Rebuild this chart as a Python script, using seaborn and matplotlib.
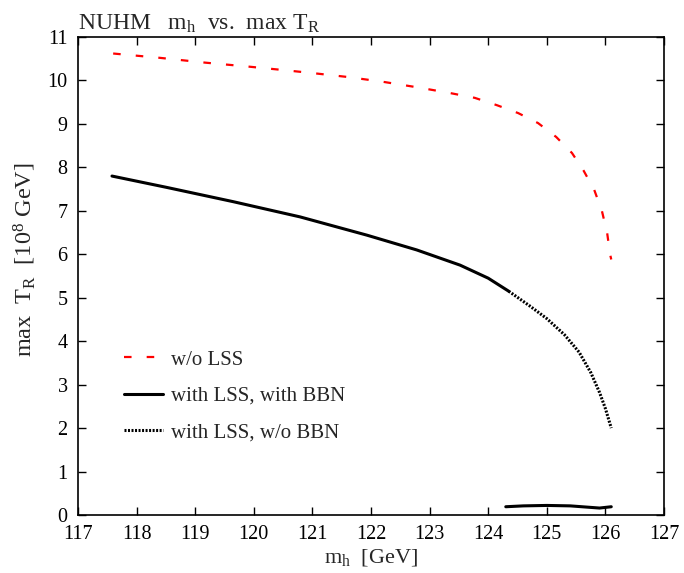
import matplotlib
matplotlib.use("Agg")
import matplotlib.pyplot as plt
import seaborn as sns
import numpy as np
import pandas as pd

# Data
mh_red = [117.6, 118.4, 119.17, 119.9, 120.5, 121.0, 121.6, 122.2, 122.8, 123.35, 123.77,
          124.15, 124.51, 124.85, 125.16, 125.43, 125.63, 125.81, 125.94, 126.03, 126.08, 126.1]
tr_red = [10.62, 10.52, 10.41, 10.32, 10.24, 10.17, 10.08, 9.97, 9.84, 9.71, 9.60,
          9.43, 9.25, 9.02, 8.70, 8.33, 7.92, 7.48, 7.00, 6.49, 6.0, 5.88]

mh_solid = [117.58, 118.51, 119.65, 120.79, 121.93, 122.78, 123.52, 124.0, 124.35]
tr_solid = [7.80, 7.54, 7.21, 6.86, 6.44, 6.10, 5.75, 5.45, 5.15]

mh_dot = [124.35, 124.7, 125.0, 125.3, 125.55, 125.75, 125.9, 126.0, 126.1]
tr_dot = [5.15, 4.82, 4.52, 4.15, 3.75, 3.28, 2.82, 2.45, 2.0]

mh_low = [124.3, 124.6, 125.0, 125.4, 125.7, 125.9, 126.1]
tr_low = [0.19, 0.21, 0.22, 0.21, 0.18, 0.16, 0.19]

sns.set_theme(style="ticks")
plt.rcParams['font.family'] = ['Liberation Serif', 'DejaVu Serif']
plt.rcParams['mathtext.fontset'] = 'custom'
plt.rcParams['mathtext.rm'] = 'Liberation Serif'
plt.rcParams['mathtext.it'] = 'Liberation Serif'

fig = plt.figure(figsize=(6.84, 5.73), dpi=100)
ax = fig.add_axes([78/684, 1-515/573, (664-78)/684, (515-37)/573])

sns.lineplot(x=mh_red, y=tr_red, ax=ax, color='red', lw=1.6, label='w/o LSS', sort=False)
ax.lines[-1].set_dashes([3.4, 6.8])
sns.lineplot(x=mh_solid, y=tr_solid, ax=ax, color='black', lw=2.2, label='with LSS, with BBN', sort=False)
sns.lineplot(x=mh_dot, y=tr_dot, ax=ax, color='black', lw=2.2, label='with LSS, w/o BBN', sort=False)
ax.lines[-1].set_dashes([0.65, 0.5])
sns.lineplot(x=mh_low, y=tr_low, ax=ax, color='black', lw=2.2, sort=False)

ax.set_xlim(117, 127)
ax.set_ylim(0, 11)
ax.set_xticks(range(117, 128))
ax.set_yticks(range(0, 12))
ax.tick_params(direction='in', top=True, right=True, labelsize=14.5, length=6, width=1, pad=6, colors='black')
ax.tick_params(axis='x', pad=7.5)
ax.tick_params(axis='y', pad=7.5)
for s in ax.spines.values():
    s.set_linewidth(1.2)
    s.set_color('black')

ax.set_xlabel(r'$\mathrm{m_h}$  [GeV]', fontsize=16, labelpad=2)
ax.set_ylabel(r'max  $\mathrm{T_R}$  [$\mathrm{10^8}$ GeV]', fontsize=17.5)
ax.yaxis.set_label_coords(-0.068, 0.535)
ax.set_title(r'NUHM   $\mathrm{m_h}$  vs.  max $\mathrm{T_R}$', loc='left', fontsize=17, pad=5, x=0.0)

leg = ax.legend(loc='upper left', bbox_to_anchor=(0.047, 0.384), frameon=False, fontsize=15,
                handlelength=1.85, handletextpad=0.4, labelspacing=0.8)

fig.savefig('out.png', dpi=100)
